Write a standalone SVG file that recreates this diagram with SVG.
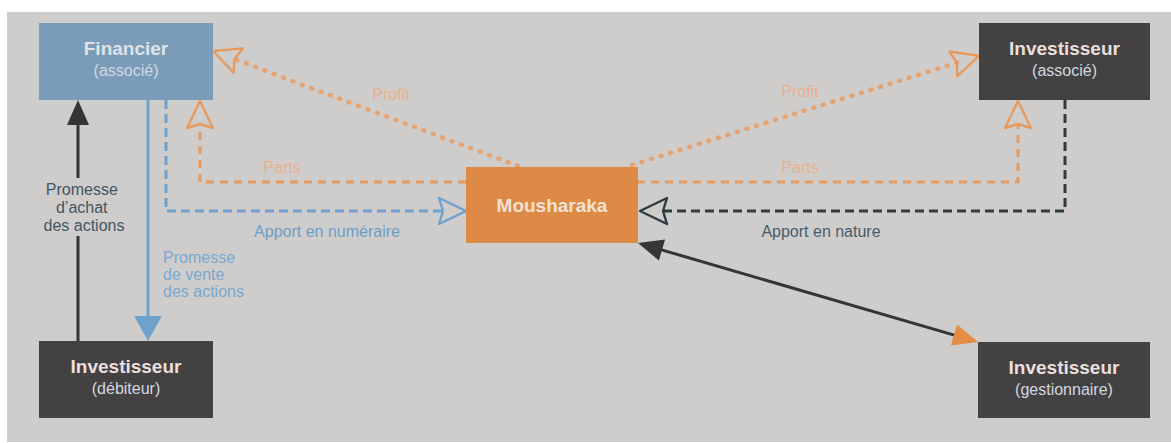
<svg xmlns="http://www.w3.org/2000/svg" width="1171" height="443" viewBox="0 0 1171 443">
<style>
  .title { font-family: "Liberation Sans", Arial, sans-serif; font-size: 19px; font-weight: bold; text-anchor: middle; }
  .sub { font-family: "Liberation Sans", Arial, sans-serif; font-size: 16px; text-anchor: middle; }
  .lbl { font-family: "Liberation Sans", Arial, sans-serif; font-size: 16px; }
  .mid { text-anchor: middle; }
  .orangeDash { fill: none; stroke: #e59a60; stroke-width: 3; stroke-dasharray: 8 6; }
  .orangeDot { fill: none; stroke: #e6a372; stroke-width: 4.5; stroke-dasharray: 1 9; stroke-linecap: round; }
  .blueDash { fill: none; stroke: #6fa2cd; stroke-width: 3; stroke-dasharray: 9 5; }
  .darkDash { fill: none; stroke: #2f3b42; stroke-width: 3; stroke-dasharray: 9 5; }
  .blackSolid { fill: none; stroke: #333536; stroke-width: 3; }
  .blueSolid { fill: none; stroke: #6fa2cd; stroke-width: 3; }
</style>
<defs>
  <marker id="openOrange" markerUnits="userSpaceOnUse" markerWidth="30" markerHeight="30" refX="4" refY="13" orient="auto" overflow="visible">
    <path d="M0,0 L27,13 L0,26 L4,13 Z" fill="none" stroke="#e59a60" stroke-width="2.4" stroke-linejoin="round"/>
  </marker>
  <marker id="openBlue" markerUnits="userSpaceOnUse" markerWidth="30" markerHeight="30" refX="4" refY="13" orient="auto" overflow="visible">
    <path d="M0,0 L27,13 L0,26 L4,13 Z" fill="none" stroke="#6fa2cd" stroke-width="2.4" stroke-linejoin="round"/>
  </marker>
  <marker id="openDark" markerUnits="userSpaceOnUse" markerWidth="30" markerHeight="30" refX="4" refY="13" orient="auto" overflow="visible">
    <path d="M0,0 L27,13 L0,26 L4,13 Z" fill="none" stroke="#2f3b42" stroke-width="2.4" stroke-linejoin="round"/>
  </marker>
  <marker id="fillBlack" markerUnits="userSpaceOnUse" markerWidth="26" markerHeight="24" refX="20" refY="11" orient="auto-start-reverse" overflow="visible">
    <path d="M0,0 L25,11 L0,22 Z" fill="#333536"/>
  </marker>
  <marker id="fillBlue" markerUnits="userSpaceOnUse" markerWidth="26" markerHeight="30" refX="20" refY="14" orient="auto" overflow="visible">
    <path d="M0,0 L25,14 L0,28 Z" fill="#6fa2cd"/>
  </marker>
  <marker id="fillOrange" markerUnits="userSpaceOnUse" markerWidth="26" markerHeight="24" refX="20" refY="11" orient="auto" overflow="visible">
    <path d="M0,0 L25,11 L0,22 Z" fill="#e38d45"/>
  </marker>
</defs>

<rect x="0" y="0" width="1171" height="443" fill="#ffffff"/>
<rect x="7" y="12" width="1164" height="430" fill="#cfcdcb"/>

<g id="connectors">
  <!-- Profit (left) -->
  <path class="orangeDot" d="M518,166 L234.5,59.1" marker-end="url(#openOrange)"/>
  <!-- Profit (right) -->
  <path class="orangeDot" d="M632,165 L957,62.7" marker-end="url(#openOrange)"/>
  <!-- Parts (left) -->
  <path class="orangeDash" d="M466,182 H200 V124" marker-end="url(#openOrange)"/>
  <!-- Parts (right) -->
  <path class="orangeDash" d="M637,182 H1018 V124" marker-end="url(#openOrange)"/>
  <!-- Apport en numeraire -->
  <path class="blueDash" d="M166,100 V211 H443" marker-end="url(#openBlue)"/>
  <!-- Apport en nature -->
  <path class="darkDash" d="M1065,100 V211 H663" marker-end="url(#openDark)"/>
  <!-- Promesse d'achat -->
  <path class="blackSolid" d="M78,341 V236 M78,178 V105" marker-end="url(#fillBlack)"/>
  <!-- Promesse de vente -->
  <path class="blueSolid" d="M148,100 V336" marker-end="url(#fillBlue)"/>
  <!-- Mousharaka <-> gestionnaire -->
  <path class="blackSolid" d="M642.8,244.4 L973.2,340.6" marker-start="url(#fillBlack)" marker-end="url(#fillOrange)"/>

  <text class="lbl" x="391" y="100" fill="#e8b090" text-anchor="middle">Profit</text>
  <text class="lbl" x="800" y="97" fill="#e8b090" text-anchor="middle">Profit</text>
  <text class="lbl" x="282" y="173" fill="#e8b090" text-anchor="middle">Parts</text>
  <text class="lbl" x="800" y="173" fill="#e8b090" text-anchor="middle">Parts</text>
  <text class="lbl" x="327" y="237" fill="#6b9fca" text-anchor="middle">Apport en numéraire</text>
  <text class="lbl" x="821" y="237" fill="#465d6d" text-anchor="middle">Apport en nature</text>
  <text class="lbl mid" fill="#3f5663">
    <tspan x="84" y="195">Promesse</tspan>
    <tspan x="84" y="213">d’achat</tspan>
    <tspan x="84" y="231">des actions</tspan>
  </text>
  <text class="lbl" fill="#7aa8d0">
    <tspan x="163" y="263">Promesse</tspan>
    <tspan x="163" y="280">de vente</tspan>
    <tspan x="163" y="297">des actions</tspan>
  </text>
</g>

<g id="financier">
  <rect x="39" y="23" width="174" height="77" fill="#7b9cb9"/>
  <text class="title" x="126" y="55" fill="#dfe3e8">Financier</text>
  <text class="sub" x="126" y="76" fill="#cfd8e2">(associé)</text>
</g>

<g id="investisseur-associe">
  <rect x="979" y="23" width="171" height="77" fill="#434142"/>
  <text class="title" x="1064.5" y="55" fill="#ebdfdb">Investisseur</text>
  <text class="sub" x="1064.5" y="76" fill="#d3d8e0">(associé)</text>
</g>

<g id="mousharaka">
  <rect x="466" y="167" width="172" height="76" fill="#dc8a45"/>
  <text class="title" x="552" y="212" fill="#f3e2d4">Mousharaka</text>
</g>

<g id="investisseur-debiteur">
  <rect x="39" y="341" width="174" height="77" fill="#434142"/>
  <text class="title" x="126" y="373" fill="#ebdfdb">Investisseur</text>
  <text class="sub" x="126" y="394" fill="#d3d8e0">(débiteur)</text>
</g>

<g id="investisseur-gestionnaire">
  <rect x="978" y="342" width="172" height="76" fill="#434142"/>
  <text class="title" x="1064" y="374" fill="#ebdfdb">Investisseur</text>
  <text class="sub" x="1064" y="395" fill="#d3d8e0">(gestionnaire)</text>
</g>
</svg>
